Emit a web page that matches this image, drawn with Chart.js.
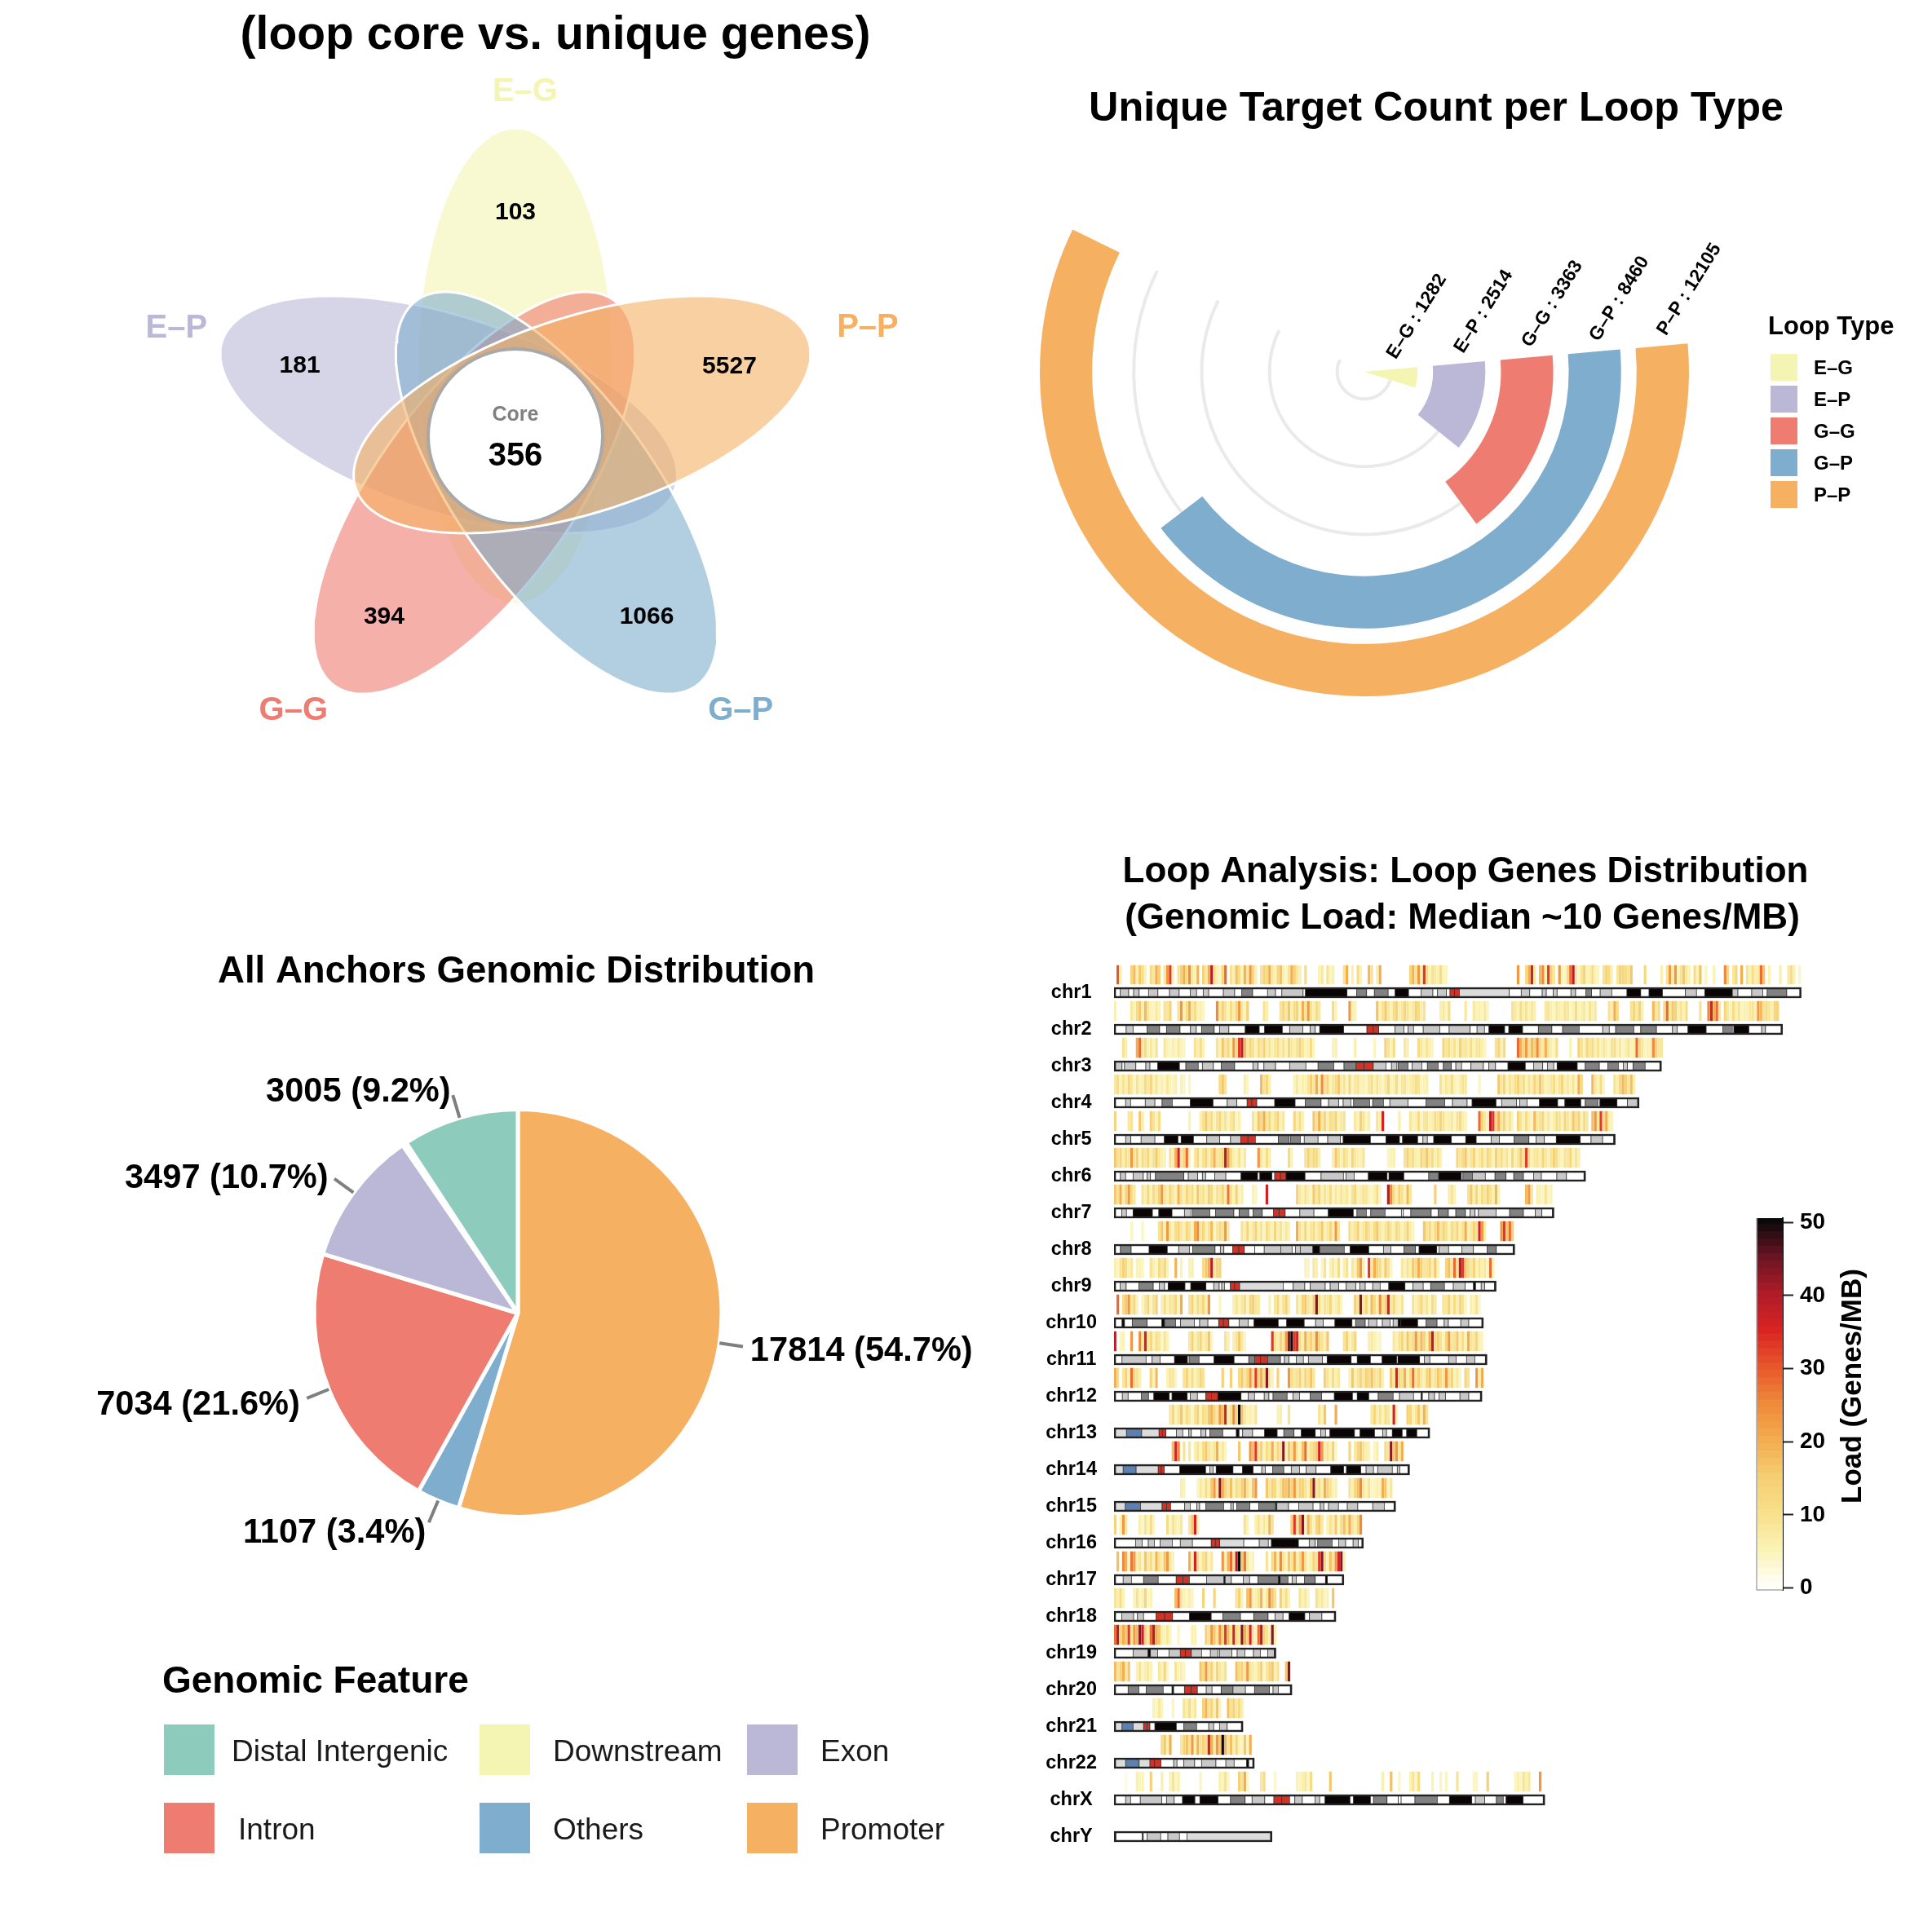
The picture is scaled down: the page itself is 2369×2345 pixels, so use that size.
<!DOCTYPE html>
<html><head><meta charset="utf-8">
<script src="https://cdn.jsdelivr.net/npm/chart.js@4"></script>
<style>html,body{margin:0;background:#fff}#w{position:relative;width:2369px;height:2345px;overflow:hidden}canvas{position:absolute;left:0;top:0}</style>
</head><body><div id="w"></div>
<script>
const FONT='"Liberation Sans",Arial,sans-serif';
// Venn
const loopTypes=['E–G','E–P','G–G','G–P','P–P'];
const loopColors=['#F5F5B3','#BBB7D7','#EE7C70','#7FADCD','#F5B062'];
const petalUnique=[103,181,394,1066,5527];
const coreCount=356;
// Circular bars
const loopTotals=[1282,2514,3363,8460,12105];
// Pie
const featureNames=['Promoter','Others','Intron','Exon','Downstream','Distal Intergenic'];
const featureCounts=[17814,1107,7034,3497,110,3005];
const featureShares=['54.7%','3.4%','21.6%','10.7%','0.3%','9.2%'];
const featureColors=['#F5B062','#7FADCD','#EE7C70','#BBB7D7','#F5F5B3','#8DCBBD'];
// Ideogram
const chrNames=['chr1','chr2','chr3','chr4','chr5','chr6','chr7','chr8','chr9','chr10','chr11','chr12','chr13','chr14','chr15','chr16','chr17','chr18','chr19','chr20','chr21','chr22','chrX','chrY'];
const chrLengths=[248.96,242.19,198.3,190.21,181.54,170.81,159.35,145.14,138.39,133.8,135.09,133.28,114.36,107.04,101.99,90.34,83.26,80.37,58.62,64.44,46.71,50.82,156.04,57.23];
const stainColors=['#FFFFFF','#C8C8C8','#828282','#0A0404','#D03428','#DCDCDC','#5E80AE'];
// bands: band end (Mb), stain index, ...
const bandsChr1=[2.3,0,5.3,1,7.1,0,9.1,1,12.5,0,15.9,1,20.1,0,23.6,1,27.6,0,29.9,1,32.3,0,34.3,1,39.6,0,43.7,1,46.3,0,50.2,2,55.6,0,58.5,1,60.8,0,68.5,1,69.3,0,84.4,3,87.9,0,91.5,2,94.3,0,99.3,2,101.8,0,106.7,3,111.2,0,115.5,1,117.2,0,120.4,1,121.7,0,123.4,4,125.1,4,143.2,5,147.5,0,150.6,1,155.1,0,156.6,1,159.1,0,160.5,1,165.5,0,167.2,1,170.9,0,173,2,176.1,0,180.3,1,185.8,0,190.8,3,193.8,0,198.7,3,207,0,211,1,214,0,224,3,226,1,231,0,235,1,236.6,0,243.7,2,248.96,0];
const bandsChr2=[4.4,0,6.9,1,12,0,16.5,2,19,0,23.9,2,27.7,0,29.8,1,31.7,0,36.3,2,38.2,0,41.6,1,47.5,0,52.6,3,54.5,0,61,3,63.6,0,68.4,1,71,0,72.9,1,74.5,0,83.2,3,91.6,0,93.9,4,95.9,4,101.8,0,105,1,106.5,0,108.5,1,112,0,118,1,121.4,0,129,1,131.5,0,134.2,1,135.8,0,141.5,3,143,0,148,3,153.7,0,158.6,2,162.5,0,168.5,2,177,0,179.4,1,181.7,0,188.3,2,190.8,0,196.5,2,202.3,0,204,1,207.9,0,214.5,3,220.6,0,224,2,224.5,0,230,3,234.6,0,236,1,242.19,0];
const bandsChr3=[2.9,1,3.8,0,7.9,1,11.5,0,13,1,15.8,0,23.7,3,26,0,30.5,2,32,0,36,1,38.9,0,43.7,2,50.3,0,52.2,1,54.3,0,58.5,1,63.6,0,69.5,1,73.9,0,79.6,2,83.3,0,87.7,2,90.6,4,93.9,4,98.5,1,100.5,0,102.5,1,103,0,106.5,2,108,0,111.5,1,113.5,0,117.4,2,119.3,0,122.2,2,123.8,0,125.9,1,129.3,0,133.8,1,135.8,0,138.2,1,142.7,0,149,3,152,0,155.3,1,157,0,159.3,1,160.5,0,167.8,3,170.7,0,175.8,2,178.9,0,182.7,2,184.5,0,186,1,188,0,192.4,2,198.3,0];
const bandsChr4=[4.2,0,6,1,11.3,0,14.8,1,17.4,0,21.1,2,27.6,0,35.9,3,41,0,44.5,1,48.2,0,49.9,4,51.7,4,58.2,0,65.6,3,69.3,0,75,2,77.7,0,81.4,1,83,0,85.8,1,86.8,0,92.6,2,93.7,0,97.6,2,99.9,0,106.5,1,113,0,119.8,2,122.6,0,127.9,1,129.7,0,138.4,3,140.4,0,145.8,1,147,0,149.6,1,154.1,0,160.7,3,163.3,0,169.1,3,170.7,0,175.3,2,176,0,182.2,3,186,0,190.21,1];
const bandsChr5=[4.2,0,6.1,1,9.8,0,14.8,1,18.2,0,23.2,3,24.3,0,28.8,3,33.6,0,38.3,1,42.2,0,45.9,1,48.5,4,51.2,4,59.5,0,63.5,2,64,0,67.5,2,68.9,0,73.9,1,77.4,0,82,1,83,0,92.9,3,98.5,0,103.4,3,104.5,0,110,3,111.9,0,113.5,1,115.8,0,122.2,3,127.4,0,131.2,3,136.6,0,139.6,1,144.9,0,150.3,2,152.9,0,155.9,1,160.2,0,168.9,3,172.8,0,177,1,181.54,0];
const bandsChr6=[2.3,0,4.2,1,6.9,0,10.6,1,12,0,13.2,1,15,0,25.3,2,26.9,0,30.3,1,32,0,33.2,1,36.5,0,40.5,1,46,0,52,3,52.8,0,57.2,3,58.2,0,60.3,4,62.3,4,69.2,3,75,0,83.1,1,84,0,87,1,92.1,0,98.9,3,99.6,0,105,3,114,0,117.6,2,125.8,3,126.4,0,129.8,2,134.5,1,138,0,142,2,144.8,0,148.3,2,152,0,154.8,1,160.4,0,163.9,1,170.81,0];
const bandsChr7=[2.8,0,4.5,1,6.9,0,13.9,3,16.2,0,21,3,25.5,0,27.9,1,28.5,0,34.7,2,36.8,0,43.4,2,45.3,0,48.8,2,50.4,0,53.7,2,57.8,0,59.9,4,62,4,67.3,0,72.4,1,77.6,0,86.7,3,88,0,91.4,2,93,0,98.2,2,104.1,0,104.8,0,107.5,0,114.9,2,117.4,0,121.1,2,123.8,0,127.3,2,129,0,130.8,1,132,0,138.4,1,143.3,0,148.3,2,152.6,0,155,1,159.35,0];
const bandsChr8=[2.3,0,6.2,2,12.7,0,19.3,3,23.4,0,27.3,1,28.5,0,36.6,2,38.5,0,39.8,1,43,0,45.2,4,47.2,4,51,0,54.4,0,60.4,1,64.5,1,65.7,0,67.5,1,72,1,74.5,3,83.4,2,85.5,0,92.3,3,97.6,0,100.3,1,105,0,109.2,2,110.5,0,116.9,3,117.7,0,121.2,1,126,0,130.2,1,135.2,0,138.5,2,145.14,0];
const bandsChr9=[2.2,0,4.4,1,9,0,14.2,2,16.4,0,18.3,1,19.6,0,25.7,3,27.8,0,33.3,3,36.1,0,38.1,1,39,0,40,1,42.1,0,43.7,4,45.5,4,61.3,5,64.9,0,69.1,1,71.1,0,76.5,1,78.3,0,81.4,1,84.1,0,87.6,1,89,0,91,1,93.7,0,96.4,1,99.5,0,105.4,3,108.3,0,112,1,114.7,0,119.7,2,122.9,0,127.2,1,130.2,0,131,3,133,0,134.3,1,138.39,0];
const bandsChr10=[2.9,0,3.8,3,6.6,0,12,2,17.3,0,18.3,3,22.3,2,24.1,0,29.1,1,31,0,34,1,37.9,0,39.6,4,41.6,4,45.3,0,48.6,1,50.7,0,59.5,3,62.5,0,68.9,3,73,0,75.8,1,80,0,86.2,3,87.5,0,91,2,92.2,0,95.2,1,97.2,0,100,1,101.1,0,102.9,1,103.9,3,110,3,113,0,117,2,119.6,0,121.1,1,125.6,0,128.5,1,133.8,0];
const bandsChr11=[2.9,0,11.6,1,13.8,0,16.7,1,21.9,0,26.6,3,27.2,0,30.8,2,36.2,0,43.5,3,48.8,0,51,2,53.1,4,55.7,4,60.3,2,61.7,0,63.4,1,66,0,68.6,1,70.4,0,75.5,1,77.2,0,85.9,3,88.1,0,92.9,3,97.1,0,102.4,3,102.8,0,110.7,3,112.4,0,114.4,1,121.2,0,123.9,1,127.7,0,130.7,1,135.09,0];
const bandsChr12=[3,0,5.1,1,9.9,0,12.5,2,14.4,0,20,3,21,0,26.5,3,27.6,0,30.2,1,33.2,0,35.3,4,37.6,4,46,3,48.6,0,50.9,1,54.4,0,56.1,1,57.6,0,62.7,2,64.8,0,67.2,1,71.1,0,75.2,2,79.8,0,86.4,3,88.1,0,92.3,3,95.7,0,101.1,2,103.4,0,108.5,1,111.2,0,111.7,3,114,0,116.1,1,117.7,0,120.1,1,125.3,0,128.5,1,133.28,0];
const bandsChr13=[4.5,5,10,6,16.3,5,17.5,4,18.8,4,22.6,0,24.9,1,27.1,0,28,1,31.5,0,33.3,1,34.7,0,39.4,2,44.3,0,45.3,3,46.6,0,50.2,1,54.5,0,59.1,3,61.5,0,65.2,2,67.8,0,72.9,3,74.9,0,76.6,1,78.2,0,87.1,3,89.1,0,94.4,3,97.3,0,98.7,1,100.8,0,104.4,3,106,0,109.7,3,114.36,0];
const bandsChr14=[3.3,5,8,6,16,5,17.1,4,18.2,4,23.8,0,33.2,3,34.7,0,35.9,1,37,0,43.1,3,46.5,0,50.4,3,53.5,0,54.8,1,57.5,0,61.5,2,64.2,0,67.2,1,69.6,0,73.2,1,78.5,0,83.2,3,84.2,0,89.4,3,91.3,0,94,1,95.5,0,100.8,1,102.6,0,103.5,1,107.04,0];
const bandsChr15=[4.1,5,9.6,6,17.4,5,19,4,20.5,4,25.6,0,27.6,1,30,0,31,1,33.3,0,39.7,2,42.3,0,43.2,1,44.5,0,49.2,2,52.4,0,58.5,2,59,3,63.2,1,66.9,0,72.1,1,74.7,0,76,1,77.7,0,81.3,1,84.5,0,88.3,1,93.7,0,97.9,1,101.99,0];
const bandsChr16=[7.8,0,10.2,1,12.4,0,14.6,1,16.7,0,21.1,1,24,0,28.4,1,35.2,0,36.7,4,38.3,4,47,5,52.6,0,55.9,1,57,0,66.8,3,70.7,0,72.9,1,73.8,0,79,2,81.4,0,83.9,1,86.6,0,88.5,1,90.34,0];
const bandsChr17=[3.3,0,6.3,1,10.7,0,16,2,22.5,0,25,4,27.3,4,33.5,0,39.8,1,40.3,3,42.5,1,46.8,0,49.1,1,52.1,0,59.5,2,60.2,3,63,2,64.5,0,66,1,69,0,72.9,2,76.6,0,77.3,3,83.26,0];
const bandsChr18=[2.8,0,7.1,1,8.5,0,10.7,1,15.2,0,18.3,4,21.2,4,27.3,0,35.2,3,39.4,0,45.8,2,50.6,0,55.8,2,58.3,0,61.2,1,63.4,0,69.1,3,70.8,0,75.3,1,80.37,0];
const bandsChr19=[6.9,0,12.3,1,13.2,3,15.8,1,19.9,0,24,1,25.9,4,28,4,31.7,1,34.9,0,37.6,1,38.2,0,42.7,1,44.6,0,47.4,1,50.5,0,53,1,55.7,0,58.62,1];
const bandsChr20=[5.1,0,9,2,11.7,0,17.8,2,21,0,21.6,3,25.5,0,28,4,30.2,4,33.4,0,35.5,1,38.8,0,43.1,2,47.6,1,50.9,0,56.3,2,57.6,0,59.5,1,64.44,0];
const bandsChr21=[2.9,5,6.9,6,10.7,5,12,4,13,4,14.8,0,22.6,3,25.3,0,29.9,2,34.3,0,36.1,1,38.2,0,41,1,46.71,0];
const bandsChr22=[4.2,5,9.1,6,13,5,14.7,4,17,4,21.6,0,22.8,1,25.3,0,29.2,1,31.7,0,36.9,1,40.5,0,43.5,1,48,0,48.8,3,50.82,0];
const bandsChrX=[4.2,0,6,1,9.5,0,17.3,1,19,0,21.8,1,24.8,0,29.3,3,31.1,0,37.7,3,42.2,0,47.5,2,50,0,54.6,1,57.9,0,60.8,4,63.6,4,65.5,0,68.2,1,72.8,0,74.5,1,76.4,0,85.5,3,86.7,0,92.9,3,94,0,98.9,2,103,0,104,0,109,0,117.1,2,121.5,0,129.6,3,130.9,0,134.3,1,138.5,0,141,2,142,0,148.2,3,156.04,0];
const bandsChrY=[0.7,3,10.2,0,10.6,3,12,0,16.9,1,19.5,0,23.7,1,26.4,0,57.23,5];
// load: [start Mb, genes/MB per 1 Mb bin ...]
const loadChr1=[[1,30,6],[6,13,18,6,16,11,5,0,11,8,20,14,0,8,23,33,5,0,9,14,20,11,25,8,5,19,0,14,8,20,39,11,6,4,13,28,0,9,6,17,11,5,19,8,23,13,6,0,9,14,11,20,8,5,13,17,6,4,9,20,14,8,6,0,11],[74,5,8,0,9,4,6,0,0,0,9,20,0,6,0,11,5,0,0,18,9,0,6,20],[107,13,19,9,23,6,33,11,5,9,8,6,11,5,4],[146,23,0,0,11,20,36,8,0,18,25,6,33,14,8,0,23,5,4,11,28,39,8,4,9,14,5],[172,6,11,5,4],[177,9,14,11,5],[182,8,14,13,11,9,16],[192,13],[198,6],[200,9,23,6],[203,23,5,9,16,8,5],[210,11,5,17],[214,4],[217,5],[221,25,11,0,8,13,0,20],[229,9,5,11,6,8,28,16],[237,5],[241,6],[244,8,11,6],[248,4]];
const loadChr2=[[0,6],[6,8,5,11,16,6,18,9,5,4,8,5,0,9,8,14],[23,9,23,6,11,20,8,11,5,6,4],[37,25,8,14,9,5,11,6,13,23,8,5,14],[54,9,6],[60,9,13,8,16,6,11,14,5,20,8,23,9,6,11,8],[79,11,5],[85,23,6,5],[95,17,5,9,16,8,5,11,14,6,8,13,9,5,8,14,11,6,9],[118,6,8,4,11],[127,8],[130,8,5,6,4,8,4],[144,9,8,5,11,6,9,5,8,6],[156,8,9,6,4,8,6,5,9,8,4,6,11,5,6,8,4,9,6,8],[179,9,6,20,11],[187,9,13,8,14,6],[195,18,8,11],[199,11,28,8,16,14,6,9,5,11],[212,9],[215,25,36,20,28,8],[221,13,8,5,11,6,9,4,6,5,8,9,5,23,18,9,11,8,6,13,14]];
const loadChr3=[[3,9,6],[8,20,28,8,11,5,8,4,9],[18,8,5,4,6,4,8,5,4],[29,9,6,11,5],[37,9,5,16,8,13,6,23,11,33,39,18,8,13,9,5,11,8,14,6,9,5,8,11,6,9,5,13,8,6,9,14,8,5,6,11,4],[79,5,6],[87,6],[94,4],[98,14,9,5,11],[105,8,6],[110,11,8,5,9,6,4],[119,13,8,11,6,9,5,14,8,9,6,11,5,8,9,6,4],[138,9,13,6,11],[146,28,20,13,23,9,18,14,25,11,8,20,9,6,4,11],[165,5],[168,14,9,5,13,8,11,6,9,5,8,6,4,9,11,5,8,4,6,9,5,6,28,11,8,4,5,6,25,14,9,8]];
const loadChr4=[[0,8,11,5,9,6,13,8,4,9,5,6,11,8,13,5,9,4,6,4,8,5,4,6,0,5,4,0,4],[38,11,16,9],[47,6,4],[53,18,9,13,6],[65,5,8,4,6,5,9,14,8,20,6,25,9,13,5,8,11,16,6,9,4,13,4,8,9,5,6,4,8,11,5,9,6,4,8,13,5,6,11,4,8,9,5,6,8,11,9,4,5,6],[118,9,5,8,6,11,5,4,6,9,8],[132,4],[139,16,8,13,5,9,6,11,14,8,11,5,9,6,13,8,16,9,5,6,8,11,5,9,13,6,8,5,9,4,20,11],[173,18,8,5,11,4],[181,9,6,13,18,14,8,17,6]];
const loadChr5=[[0,14],[5,8,9],[9,16,6],[13,14,9,5,11],[27,5],[31,6,9,16,8,11,5,9,13,6,9,5,8,11,4,6],[50,9,5,16,11,20,8,13,6,9,14,5,8],[65,13,6,11,5],[72,16,9,20,8,13,6,11,9,14,5,8,9],[87,8,5,14,9,4,6],[95,9,6,36],[103,6],[107,8,5,6,11,4,8,9,5,6,11,8,13,9,5,6,8,4,9,11,6,5],[132,28,13,8,5,39,33,11,20,8,13,6,9,4],[146,14,9,5,11,6,4,18],[153,8,9,13,5,8,4,6,11,9,5,13,8,6,16,9,14,5,11,8],[173,17,23,8,33,11,20,6,5]];
const loadChr6=[[0,16,9,13,6,11,8,23,9,14,5,11,8,13,6,9,16,8,6,5],[20,9,6,20,36,8,13,28,5],[29,8,13,5,9,14,6,11,19,8,9,13,39,23,11,6,5,9,4,8],[52,23,8,5,11,6],[63,11,5],[69,9,14,8,13,11,6],[79,6,16,9,5,11,8,4,13,8,6,5,9],[99,4,5,6],[105,9,14,8,11,6,5,13,9,16,8,11,6,9,5],[124,13,8,11,16,6,9,14,5,8,11,6,13,9,5,14,8,11,6,9,4,13,6,8,16,9,33,11,5,8,9,6,13,8,5,9,14,11,6,4,9,8,13,5,9,6]];
const loadChr7=[[0,16,9,20,6,13,23,11,8],[10,9,6,13,5,11,8,14,23,9,6,13,8,5,19,9,6,13,8,11,5,16,8,9,6,14,11,5,9,8,13,6,27,9,5,14,4,6],[50,5,4],[55,36],[66,14,8,5,9,6,4,16,8,13,5,9,6,11,4,8,5,9,6,8,4,9,13,5,6,9,8,5,4,6,11,4],[99,39,25,11,6,14,9,5,18,8],[116,14],[121,6,9,5],[128,9,16,6,13,5,11,8,14,9,6,18,5],[149,18,23,8],[153,6,5,4,9,4,5]];
const loadChr8=[[6,4],[10,4],[16,9,16,6,23,8,5,11,14,8,6,13,9,5,20,25,8,13,6,9,18,5,8,11,9,23,8],[46,9,6,13,5,8,14,6,9,4,11,8,5,13,6,9,4,8,5],[66,20,9,6,13,5,8,11,6,9,16,5,8,13,6,23,8],[85,11,6,9,14,5,8,13,9,6,11,16,8,5,9,13,8,6,11,9,5,8,14,6,4],[112,16,9,13,6,11,18,8,14,9,5,11,8,13,6,9,20,5,8,14,9,36,23,6],[140,23,33,16,28,14]];
const loadChr9=[[0,6,4,9,14,11,6,8],[8,5,5,4],[13,9,6,4,11,8,13,5],[22,19],[24,5],[27,5,6],[32,11,16,20,39,9,13,14],[69,5,4,0,8,6,0,4,9,0,5,8,4,11,0,6,9,0,8,5,16,23,6,0,33,8,20,14,11,5,16,9,4],[104,8,5,9,6,16,11,20,14,8,9,13,6,16,5],[120,13,17,8,28,9,39,33,16,11,8,14,5,9,6,8,4,28,5]];
const loadChr10=[[1,28],[3,11,16,23,8,13,5],[10,5],[11,8,13,4,9,14],[17,6,11,5,9,8,13,4,20],[27,9,14,5,11,8,13,6,23],[38,4],[43,6,9,5,8,11,4,13,14,9,8],[56,5],[58,8,13,4,9,14,6],[66,9,5,13,16,8,6,14,43,11,5,9,8,13,4,6,9,4],[87,14,9,43,8,13,5,18,11,6,25,9,14,36,8,13,6,5,9],[108,9,5,8,13,6,9,4,11,8],[119,9,8,14,5,11,6,13,9,4],[129,6,5],[131,9,4]];
const loadChr11=[[0,39],[2,4,5],[6,23],[9,25,8,36,9,13,5,11,8,4,9,5],[27,8,14,5,9,13,6,8,16,4],[40,9,6],[43,6,9,16,8,4],[57,33,9,6,13,8,23,43,50,33,36,11,6,20,9,14,8,25,13,9,6,16],[83,9,14,5,8,13],[92,6,8,5,4,4],[101,8,5,9,13,6,16,8,11,23,9,18,13,6,20,39,11,14,9,5,13,23,8,9,16,6,11,5,20,9,8,13,6,4]];
const loadChr12=[[0,20,11],[3,8,14,6,28,13,9,6],[13,13,5,18],[19,5,9,8,4],[25,9,14,6,11,5,8,13,9],[39,14],[42,14],[45,11,16,8,13,23,9,33,14,20,11,43,8,5],[59,14],[63,23,11,8,9,14,6,13,9,16,8],[76,14,9,5,11,6,8],[85,5,16,6,9,13,8,14,11,17,9,8,13,5],[100,16,8,36,13,9,20,6,11,28,9,14,8,5,13,17,6,9,16,11,8,23,9,14,5,8,4],[127,13,9],[131,23,6,20]];
const loadChr13=[[20,8,13,5,9,16,6,11,8,4,9,14,5,11,9,16,19,13,8,23,17,36,6,9,25,13,50,17,8,5,6,4,9],[59,5,6],[63,9],[74,9,5,16],[80,20],[93,8,13,6,9,5,11,8,4,36,5],[106,14,13,5,9,16,6,19,9]];
const loadChr14=[[21,18,36,25],[25,9],[27,8],[29,6,9,5,11,16,8,6,9,20,5,8,4],[45,16],[49,23,17,33,9,14,5,11,8,20,6,13,9,43,5,16,9,23,8,5,17,28,6,9,13,16,36,23,6,9,5,14,4],[85,13],[87,8,13,16,9,6,5],[94,4,6],[98,11,9,43,16,23,8,20]];
const loadChr15=[[24,6,5],[30,4,8,5,11,6,16,23,8,43,20,13,9,17,5,11,8,14,19,9,5,16,23],[55,16,8,14,11,5,9,17,16,19,13,23,8,14,13,9,5,17,43,8,11,6,20,14,9,5,6],[85,9,6,13,17,25,8,5,9,4,4,6,5,20,16,4,8]];
const loadChr16=[[0,14],[2,5,23,8],[9,6,4,9,5,11,4],[19,11,4,9,6,5,8],[27,8,16,36,6],[47,9,5],[51,6,9,4,8,5,19,9],[64,14,33,8,23,43,5,19,9,4,13,16,8],[77,5,9,6,16,4,11,17,8,20,9,6,13,25]];
const loadChr17=[[1,17,0,25,20,4,27,23,6,9,4,16,8,11,5,19,9,6,16,23,8,5],[27,20,6,36,11,5,9,14,4,8],[39,23,5,19,28,9,39,50,16,27,8,4,5],[55,9],[57,11,19,6,25,9,5,16,8,20,6,11,23,9,4,6,14,9,33,43,11,5,17,8,23,36,43,6]];
const loadChr18=[[0,9,6,11,5],[7,5,9,4,6,13,4,5],[22,18,28,8,5,4,6,4],[32,13],[36,13],[44,9,14,5],[48,17,23,5,6,9,19,4,8,25,16,9],[60,14,6,11,5],[67,9,5,8,4],[73,9,6,8,4,5],[79,16]];
const loadChr19=[[0,28,39,13,20,16,33,9,23,18,43,36,13,8,28,39,20,16,6,5,8,4],[23,4],[28,6,5],[33,14,9,23,16,8,25,13,33,18,9,36,11,8,43,20,13,36,8,4,28,39,14,9,5,43,6]];
const loadChr20=[[0,18,9,14,20,8,16],[8,5,9,4,6,8,5],[16,8,5,13,4],[22,9,5,6,4],[31,16,11,23,9,14,5,13,8,6,9],[44,17,11,14,8,23,9,6,5,9,14,4,8,13,16,6,9],[62,16,43]];
const loadChr21=[[14,5,4,8,4],[21,4],[25,9,6,11,5,8],[32,14,19,9,13,6,16,5],[41,17,9,14,8,11,6]];
const loadChr22=[[17,11,16,5,20],[24,8,13,17,9,23,6,19,9,14,11,36,20,8,23,16,50,19,9,17,6,13,5,4,16,4,20]];
const loadChrX=[[4,2],[8,6,4,5],[13,14],[17,6],[20,5,9,4,6],[31,4],[38,6,5,9,4],[45,14,9,20,4],[53,8,11],[58,3],[66,5,4,6,8,4,11],[78,16],[97,6],[100,17],[103,4],[107,5,9,4,11],[115,5],[118,4],[120,4],[124,9],[130,4,4],[135,14],[145,4,6,4,9,5,8],[154,23]];
const loadChrY=[];
const allBands=[bandsChr1,bandsChr2,bandsChr3,bandsChr4,bandsChr5,bandsChr6,bandsChr7,bandsChr8,bandsChr9,bandsChr10,bandsChr11,bandsChr12,bandsChr13,bandsChr14,bandsChr15,bandsChr16,bandsChr17,bandsChr18,bandsChr19,bandsChr20,bandsChr21,bandsChr22,bandsChrX,bandsChrY];
const allLoads=[loadChr1,loadChr2,loadChr3,loadChr4,loadChr5,loadChr6,loadChr7,loadChr8,loadChr9,loadChr10,loadChr11,loadChr12,loadChr13,loadChr14,loadChr15,loadChr16,loadChr17,loadChr18,loadChr19,loadChr20,loadChr21,loadChr22,loadChrX,loadChrY];
const colorbarTicks=[0,10,20,30,40,50];
const colorStops=[[0,255,255,250],[5,251,243,180],[10,248,224,140],[15,246,206,114],[20,243,172,78],[25,238,138,58],[30,232,86,43],[35,217,36,36],[40,174,28,40],[45,106,21,36],[50,10,10,10]];

function loadColor(v){for(let i=1;i<colorStops.length;i++){if(v<=colorStops[i][0]){const a=colorStops[i-1],b=colorStops[i],t=(v-a[0])/(b[0]-a[0]);return `rgb(${a[1]+(b[1]-a[1])*t|0},${a[2]+(b[2]-a[2])*t|0},${a[3]+(b[3]-a[3])*t|0})`}}return 'rgb(10,10,10)'}
function txt(ctx,s,x,y,font,color,align,rot){ctx.save();ctx.translate(x,y);if(rot)ctx.rotate(rot*Math.PI/180);ctx.font=font;ctx.fillStyle=color||'#000';ctx.textAlign=align||'center';ctx.textBaseline='middle';ctx.fillText(s,0,0);ctx.restore()}
function canvas(){const c=document.createElement('canvas');c.width=2369;c.height=2345;c.style.width='2369px';c.style.height='2345px';document.getElementById('w').appendChild(c);return c.getContext('2d')}
function pad(l,t,r,b){return {left:l,top:t,right:2369-r,bottom:2345-b}}
const base={responsive:false,animation:false,devicePixelRatio:1,events:[],plugins:{legend:{display:false},tooltip:{enabled:false}}};
function hex(c,a){const n=parseInt(c.slice(1),16);return `rgba(${n>>16},${n>>8&255},${n&255},${a})`}

/* ---------- Venn ---------- */
const petalAngles=[0,-72,-144,144,72];
const countPolar=[274,278,274,274,276];
const labelPolar=[[425,0.028],[437,-1.2566],[431,-2.458],[433,2.45],[453,1.265]];
const P={a:292,b:120,off:86,cx:632,cy:535,left:200,top:130,right:1060,bottom:920,core:107};
function petalOutline(deg){const r=deg*Math.PI/180,pts=[];for(let i=0;i<=160;i++){const t=i/160*2*Math.PI,u=P.b*Math.sin(t),v=P.off+P.a*Math.cos(t);pts.push({x:u*Math.cos(r)+v*Math.sin(r),y:-u*Math.sin(r)+v*Math.cos(r)})}return pts}
const vennDs=loopTypes.map((n,i)=>({label:n,data:petalOutline(petalAngles[i]),showLine:true,fill:'shape',backgroundColor:hex(loopColors[i],.6),borderColor:'#fff',borderWidth:3,pointRadius:0,order:6-i,tension:0,clip:false}));
vennDs.push({label:'Core',data:[{x:0,y:0}],pointRadius:P.core,pointBackgroundColor:'#fff',pointBorderColor:'#A8A8A8',pointBorderWidth:4,order:0,clip:false});
new Chart(canvas(),{type:'scatter',data:{datasets:vennDs},options:{...base,layout:{autoPadding:false,padding:pad(P.left,P.top,P.right,P.bottom)},
 scales:{x:{display:false,bounds:'data',min:P.left-P.cx,max:P.right-P.cx},y:{display:false,bounds:'data',min:P.cy-P.bottom,max:P.cy-P.top}}},
 plugins:[{id:'vennText',afterDraw(c){const x=c.scales.x,y=c.scales.y,ctx=c.ctx;
  txt(ctx,'(loop core vs. unique genes)',681,44,`bold 57px ${FONT}`);
  loopTypes.forEach((n,i)=>{const r=petalAngles[i]*Math.PI/180,s=countPolar[i];
   txt(ctx,String(petalUnique[i]),x.getPixelForValue(s*Math.sin(r)),y.getPixelForValue(s*Math.cos(r)),`bold 30px ${FONT}`);
   const [lr,la]=labelPolar[i];
   txt(ctx,n,x.getPixelForValue(lr*Math.sin(la)),y.getPixelForValue(lr*Math.cos(la))+3,`bold 40px ${FONT}`,loopColors[i]);});
  txt(ctx,'Core',x.getPixelForValue(0),y.getPixelForValue(26),`bold 25px ${FONT}`,'#808080');
  txt(ctx,String(coreCount),x.getPixelForValue(0),y.getPixelForValue(-25),`bold 40px ${FONT}`);
 }}]});

/* ---------- Circular bars ---------- */
const R={cx:1673,cy:456,outer:398,rot:85,sweep:211,gap:19,width:64};
const fullCircle=Math.max(...loopTotals)*360/R.sweep;
const ringDs=[];
for(let i=loopTypes.length-1;i>=0;i--){ringDs.push({label:loopTypes[i],data:[loopTotals[i],fullCircle-loopTotals[i]],backgroundColor:[loopColors[i],'rgba(0,0,0,0)'],borderWidth:0,weight:i==0?R.width-.5:R.width});if(i>0)ringDs.push({label:'gap',data:[1],backgroundColor:['rgba(0,0,0,0)'],borderWidth:0,weight:R.gap})}
new Chart(canvas(),{type:'doughnut',data:{datasets:ringDs},options:{...base,rotation:R.rot,cutout:1.5,layout:{padding:pad(R.cx-R.outer,R.cy-R.outer,R.cx+R.outer,R.cy+R.outer)}},
 plugins:[{id:'ringGrid',beforeDatasetsDraw(c){const ctx=c.ctx;ctx.save();ctx.strokeStyle='#EAEAEA';ctx.lineWidth=4;
   const a0=(R.rot-90)*Math.PI/180,a1=a0+R.sweep*Math.PI/180;
   c.data.datasets.forEach((d,i)=>{if(d.label==='gap')return;const e=c.getDatasetMeta(i).data[0];ctx.beginPath();ctx.arc(e.x,e.y,(e.innerRadius+e.outerRadius)/2,a0,a1);ctx.stroke()});ctx.restore()},
  afterDraw(c){const ctx=c.ctx;txt(ctx,'Unique Target Count per Loop Type',1761,134,`bold 50.4px ${FONT}`);
   c.data.datasets.forEach((d,i)=>{if(d.label==='gap')return;const e=c.getDatasetMeta(i).data[0],r=(e.innerRadius+e.outerRadius)/2,t=(R.rot-90)*Math.PI/180;
     const j=loopTypes.indexOf(d.label);
     txt(ctx,`${d.label} : ${loopTotals[j]}`,e.x+r*Math.cos(t),e.y+r*Math.sin(t)-15,`bold 23px ${FONT}`,'#000','left',-58)});
   txt(ctx,'Loop Type',2168,401,`bold 31px ${FONT}`,'#000','left');
   loopTypes.forEach((n,i)=>{const y=434+39*i;ctx.fillStyle=loopColors[i];ctx.fillRect(2171,y,33,33);txt(ctx,n,2224,y+18,`bold 24px ${FONT}`,'#000','left')});
  }}]});

/* ---------- Pie ---------- */
const PIE={cx:635,cy:1610.5,size:505,line0:250,line1:279,label:288};
const legendOrder=['Distal Intergenic','Downstream','Exon','Intron','Others','Promoter'];
const legendSpots=[[201,284],[588,678],[916,1006]];
new Chart(canvas(),{type:'pie',data:{labels:featureNames,datasets:[{data:featureCounts,backgroundColor:featureColors,borderColor:'#fff',borderWidth:5}]},
 options:{...base,layout:{padding:pad(PIE.cx-PIE.size/2,PIE.cy-PIE.size/2,PIE.cx+PIE.size/2,PIE.cy+PIE.size/2)}},
 plugins:[{id:'pieText',afterDraw(c){const ctx=c.ctx,m=c.getDatasetMeta(0);txt(ctx,'All Anchors Genomic Distribution',633,1192,`bold 45.6px ${FONT}`);
   m.data.forEach((e,i)=>{if(featureNames[i]==='Downstream')return;const a=(e.startAngle+e.endAngle)/2,cs=Math.cos(a),sn=Math.sin(a);
    ctx.save();ctx.strokeStyle='#7F7F7F';ctx.lineWidth=4;ctx.beginPath();ctx.moveTo(e.x+PIE.line0*cs,e.y+PIE.line0*sn);ctx.lineTo(e.x+PIE.line1*cs,e.y+PIE.line1*sn);ctx.stroke();ctx.restore();
    txt(ctx,`${featureCounts[i]} (${featureShares[i]})`,e.x+PIE.label*cs,e.y+PIE.label*sn+5,`bold 41.6px ${FONT}`,'#000',cs>0?'left':'right')});
   txt(ctx,'Genomic Feature',199,2063,`bold 46px ${FONT}`,'#000','left');
   legendOrder.forEach((n,i)=>{const col=i%3,row=Math.floor(i/3),y=2115+row*96,idx=featureNames.indexOf(n);ctx.fillStyle=featureColors[idx];ctx.fillRect(legendSpots[col][0],y,62,62);
     txt(ctx,n,legendSpots[col][1]+(n==='Intron'?8:0),y+35,`37px ${FONT}`,'#1a1a1a','left')});
  }}]});

/* ---------- Ideogram ---------- */
const rows=[];chrNames.forEach(n=>{rows.push(n+' load');rows.push(n)});
const stripeWidth=0.75;
const bandData=[],bandBg=[],stripeData=[],stripeBg=[],outline=[];
chrNames.forEach((n,i)=>{const b=allBands[i];let s=0;for(let k=0;k<b.length;k+=2){bandData.push({x:[s,b[k]],y:n});bandBg.push(stainColors[b[k+1]]);s=b[k]}
 outline.push({x:[0,chrLengths[i]],y:n});
 allLoads[i].forEach(seg=>{for(let k=1;k<seg.length;k++){if(seg[k]>0){stripeData.push({x:[seg[0]+k-1,seg[0]+k-1+stripeWidth],y:n+' load'});stripeBg.push(loadColor(seg[k]))}}})});
const I={left:1366,right:2208.7,top:1183.75,rowH:22.5,axisW:100};
new Chart(canvas(),{type:'bar',data:{labels:rows,datasets:[
  {label:'outline',data:outline,backgroundColor:'rgba(0,0,0,0)',borderColor:'#222',borderWidth:2,borderSkipped:false,barThickness:13,grouped:false},
  {label:'bands',data:bandData,backgroundColor:bandBg,borderColor:'#333',borderWidth:.75,borderSkipped:false,barThickness:13,grouped:false},
  {label:'load',data:stripeData,backgroundColor:stripeBg,borderWidth:0,barThickness:24,grouped:false}]},
 options:{...base,indexAxis:'y',layout:{padding:pad(I.left-I.axisW,I.top,I.right,I.top+I.rowH*rows.length)},
  scales:{x:{display:false,bounds:'data',min:0,max:chrLengths[0]},
   y:{type:'category',afterFit(s){s.width=I.axisW},grid:{display:false,drawTicks:false},border:{display:false},
    ticks:{autoSkip:false,crossAlign:'center',padding:21,color:'#000',font:{family:FONT,weight:'bold',size:23.5},callback(v){const l=this.getLabelForValue(v);return l.endsWith('load')?'':l}}}}},
 plugins:[{id:'ideoText',afterDraw(c){const ctx=c.ctx;txt(ctx,'Loop Analysis: Loop Genes Distribution',1797,1070,`bold 44px ${FONT}`);txt(ctx,'(Genomic Load: Median ~10 Genes/MB)',1793,1127,`bold 44px ${FONT}`)}}]});

/* ---------- Colour bar ---------- */
const cbLevels=Array.from({length:51},(_,i)=>i);
new Chart(canvas(),{type:'bar',data:{labels:['Load'],datasets:cbLevels.map(l=>({data:[[l-.3,l+.75]],backgroundColor:loadColor(l),borderWidth:0,grouped:false,barPercentage:1,categoryPercentage:1}))},
 options:{...base,layout:{padding:pad(2154,1494,2186+60,1950)},
  scales:{x:{display:false},y:{position:'right',bounds:'data',min:-.28,max:50.57,afterFit(s){s.width=60},afterBuildTicks(s){s.ticks=colorbarTicks.map(v=>({value:v}))},
   grid:{drawOnChartArea:false,tickLength:13,tickColor:'#222',tickWidth:2},border:{color:'#000',width:2},
   ticks:{padding:8,color:'#000',font:{family:FONT,weight:'bold',size:28}}}}},
 plugins:[{id:'cbText',afterDraw(c){const ctx=c.ctx,a=c.chartArea;ctx.save();ctx.strokeStyle='#AAA';ctx.lineWidth=1.5;ctx.beginPath();ctx.moveTo(a.left,a.top);ctx.lineTo(a.left,a.bottom);ctx.lineTo(a.right,a.bottom);ctx.stroke();ctx.restore();
   txt(ctx,'Load (Genes/MB)',2272,1700,`bold 35px ${FONT}`,'#000','center',-90)}}]});
</script></body></html>
